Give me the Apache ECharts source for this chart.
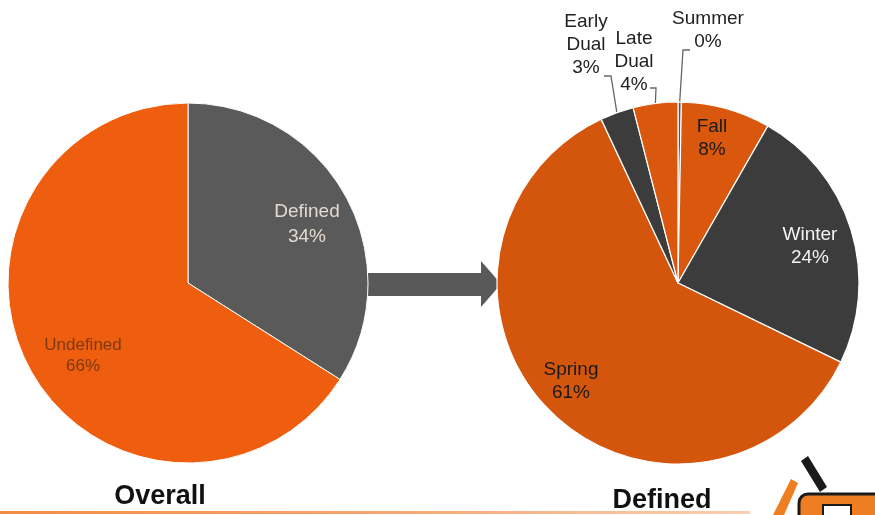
<!DOCTYPE html>
<html>
<head>
<meta charset="utf-8">
<script src="https://cdn.jsdelivr.net/npm/echarts@6/dist/echarts.min.js"></script>
<style>
  html, body { margin: 0; padding: 0; background: #fff; }
  #chart { width: 875px; height: 515px; }
</style>
</head>
<body>
<div id="chart"></div>
<script>
// Overall split of records
const overallCategories = ['Defined', 'Undefined'];
const overallValues = [34, 66];

// Breakdown of the defined records, clockwise from 12 o'clock
const seasonCategories = ['Summer', 'Fall', 'Winter', 'Spring', 'Early Dual', 'Late Dual'];
const seasonValues = [0.3, 8, 24, 61, 3, 4];

const chartTitles = ['Overall', 'Defined'];

const overallColors = { 'Defined': '#5a5a5a', 'Undefined': '#ee5e0e' };
const seasonColors = {
  'Summer': '#555555', 'Fall': '#d9580d', 'Winter': '#3c3c3c',
  'Spring': '#d4550c', 'Early Dual': '#3c3c3c', 'Late Dual': '#d9580d'
};
const seasonLabelColors = { 'Winter': '#f2f2f2' };

// Label placement (centre of each text block) and leader-line bends
const overallLabelSpots = {
  'Defined': { x: 307, y: 224 },
  'Undefined': { x: 83, y: 356 }
};
const seasonLabelSpots = {
  'Summer': { x: 708, y: 30, bend: [[683, 50], [690, 50]] },
  'Fall': { x: 712, y: 138 },
  'Winter': { x: 810, y: 246 },
  'Spring': { x: 571, y: 381 },
  'Early Dual': { x: 586, y: 45, bend: [[611, 76], [604, 76]] },
  'Late Dual': { x: 634, y: 62, bend: [[656, 88], [650, 88]] }
};
const outsideLabels = ['Summer', 'Early Dual', 'Late Dual'];

const FONT = '"Liberation Sans", Arial, sans-serif';

const chart = echarts.init(document.getElementById('chart'), null, { renderer: 'canvas' });

function spotLayout(names, spots) {
  return function (params) {
    const s = spots[names[params.dataIndex]];
    if (!s) return {};
    const out = { x: s.x, y: s.y, align: 'center', verticalAlign: 'middle' };
    if (s.bend && params.labelLinePoints) {
      out.labelLinePoints = [params.labelLinePoints[0], s.bend[0], s.bend[1]];
    }
    return out;
  };
}

const option = {
  backgroundColor: '#ffffff',
  animation: false,
  graphic: [
    // connecting arrow
    {
      type: 'polygon', z: 0,
      shape: { points: [[366, 273], [481, 273], [481, 261], [501, 284], [481, 307], [481, 296], [366, 296]] },
      style: { fill: '#595959' }
    },
    // pie captions
    {
      type: 'text', x: 160, y: 483, z: 10,
      style: { text: chartTitles[0], font: 'bold 27px ' + FONT, fill: '#111', align: 'center', verticalAlign: 'top' }
    },
    {
      type: 'text', x: 662, y: 487, z: 10,
      style: { text: chartTitles[1], font: 'bold 27px ' + FONT, fill: '#111', align: 'center', verticalAlign: 'top' }
    },
    // bottom rule
    {
      type: 'rect', z: 1,
      shape: { x: 0, y: 511, width: 750, height: 3 },
      style: {
        fill: new echarts.graphic.LinearGradient(0, 0, 1, 0, [
          { offset: 0, color: '#f28c45' },
          { offset: 0.5, color: '#f5a570' },
          { offset: 1, color: '#f9cfb2' }
        ])
      }
    },
    // corner logo
    {
      type: 'polygon', z: 5,
      shape: { points: [[801, 461], [808, 456], [827, 487], [820, 492]] },
      style: { fill: '#1a1a1a' }
    },
    {
      type: 'polygon', z: 5,
      shape: { points: [[791, 479], [798, 483], [784, 515], [773, 515]] },
      style: { fill: '#ef7d22' }
    },
    {
      type: 'rect', z: 5,
      shape: { x: 799, y: 494, width: 90, height: 34, r: 9 },
      style: { fill: '#ef7d22', stroke: '#1a1a1a', lineWidth: 3 }
    },
    {
      type: 'rect', z: 6,
      shape: { x: 823, y: 505, width: 28, height: 12 },
      style: { fill: '#ffffff', stroke: '#1a1a1a', lineWidth: 2 }
    }
  ],
  series: [
    {
      type: 'pie',
      z: 2,
      center: [188, 283],
      radius: 180,
      startAngle: 90,
      clockwise: true,
      avoidLabelOverlap: false,
      percentPrecision: 0,
      itemStyle: { borderColor: '#ffffff', borderWidth: 1 },
      label: {
        show: true,
        position: 'inside',
        fontFamily: FONT,
        formatter: '{b}\n{d}%'
      },
      labelLine: { show: false },
      labelLayout: spotLayout(overallCategories, overallLabelSpots),
      emphasis: { disabled: true },
      data: overallCategories.map((name, i) => ({
        name,
        value: overallValues[i],
        itemStyle: { color: overallColors[name] },
        label: name === 'Defined'
          ? { color: '#e2dad2', fontSize: 19, lineHeight: 25 }
          : { color: '#7d3a12', fontSize: 17, lineHeight: 21 }
      }))
    },
    {
      type: 'pie',
      z: 2,
      center: [678, 283],
      radius: 181,
      startAngle: 90,
      clockwise: true,
      avoidLabelOverlap: false,
      percentPrecision: 0,
      itemStyle: { borderColor: '#ffffff', borderWidth: 1.2 },
      label: {
        show: true,
        position: 'inside',
        fontFamily: FONT,
        fontSize: 19,
        lineHeight: 23,
        color: '#1a1a1a',
        formatter: p => p.name.replace(' ', '\n') + '\n' + p.percent + '%'
      },
      labelLine: { show: false },
      labelLayout: spotLayout(seasonCategories, seasonLabelSpots),
      emphasis: { disabled: true },
      data: seasonCategories.map((name, i) => {
        const outside = outsideLabels.includes(name);
        const label = outside ? { position: 'outside', color: '#222' } : {};
        if (seasonLabelColors[name]) label.color = seasonLabelColors[name];
        return {
          name,
          value: seasonValues[i],
          itemStyle: { color: seasonColors[name] },
          label,
          labelLine: outside
            ? { show: true, length: 10, length2: 6, lineStyle: { color: '#666', width: 1.3 } }
            : { show: false }
        };
      })
    }
  ]
};

chart.setOption(option);
</script>
</body>
</html>
